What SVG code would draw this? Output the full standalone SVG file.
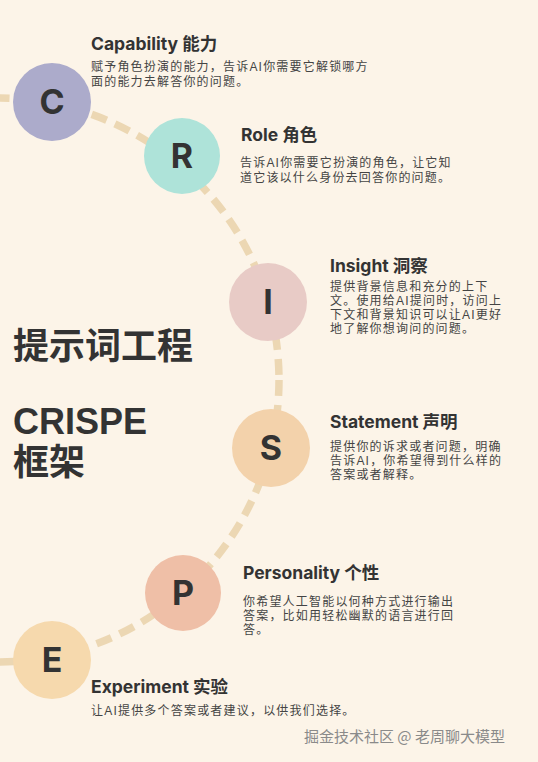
<svg xmlns="http://www.w3.org/2000/svg" width="538" height="762" viewBox="0 0 538 762">
<style>
.title{font-family:Inter,"Noto Sans CJK SC",sans-serif;font-weight:700;font-size:17.5px;fill:#333}
.desc{font-family:"Liberation Sans","Noto Sans CJK SC",sans-serif;font-size:12px;letter-spacing:1.2px;fill:#444}
.letter{font-family:Inter,"Liberation Sans",sans-serif;font-weight:700;font-size:34px;fill:#333;text-anchor:middle}
.big{font-family:"Liberation Sans","Noto Sans CJK SC",sans-serif;font-weight:700;font-size:36px;fill:#333}
.wm{font-family:"Noto Sans CJK SC",sans-serif;font-size:15px;fill:#8a8a8a}
</style>
<rect width="538" height="762" fill="#fcf4e8"/>
<g id="connectors">
<circle cx="-3" cy="380" r="282" fill="none" stroke="#ecd7b3" stroke-width="7.5" stroke-dasharray="16 9"/>
</g>
<g id="node-C">
<circle cx="52" cy="102" r="39" fill="#acabcb"/>
<text class="letter" x="52" y="114">C</text>
<text class="title" x="91" y="50">Capability 能力</text>
<text class="desc" x="91" y="71">赋予角色扮演的能力，告诉AI你需要它解锁哪方<tspan x="91" dy="15">面的能力去解答你的问题。</tspan></text>
</g>
<g id="node-R">
<circle cx="182" cy="156" r="38" fill="#aee3d9"/>
<text class="letter" x="182" y="168">R</text>
<text class="title" x="241" y="141">Role 角色</text>
<text class="desc" x="240" y="167">告诉AI你需要它扮演的角色，让它知<tspan x="240" dy="15">道它该以什么身份去回答你的问题。</tspan></text>
</g>
<g id="node-I">
<circle cx="268" cy="302" r="39" fill="#e8cbc6"/>
<text class="letter" x="268" y="314">I</text>
<text class="title" x="330" y="272">Insight 洞察</text>
<text class="desc" x="330" y="291">提供背景信息和充分的上下<tspan x="330" dy="14">文。使用给AI提问时，访问上</tspan><tspan x="330" dy="14">下文和背景知识可以让AI更好</tspan><tspan x="330" dy="14">地了解你想询问的问题。</tspan></text>
</g>
<g id="node-S">
<circle cx="271" cy="448" r="39" fill="#f3d2ab"/>
<text class="letter" x="271" y="460">S</text>
<text class="title" x="330" y="428">Statement 声明</text>
<text class="desc" x="330" y="451">提供你的诉求或者问题，明确<tspan x="330" dy="14">告诉AI，你希望得到什么样的</tspan><tspan x="330" dy="14">答案或者解释。</tspan></text>
</g>
<g id="node-P">
<circle cx="183" cy="593" r="38" fill="#efbfa7"/>
<text class="letter" x="183" y="605">P</text>
<text class="title" x="243" y="579">Personality 个性</text>
<text class="desc" x="243" y="606">你希望人工智能以何种方式进行输出<tspan x="243" dy="14">答案，比如用轻松幽默的语言进行回</tspan><tspan x="243" dy="14">答。</tspan></text>
</g>
<g id="node-E">
<circle cx="52" cy="660" r="39" fill="#f6d9ad"/>
<text class="letter" x="52" y="672">E</text>
<text class="title" x="91" y="693">Experiment 实验</text>
<text class="desc" x="91" y="715">让AI提供多个答案或者建议，以供我们选择。</text>
</g>
<g id="heading">
<text class="big" x="13" y="359">提示词工程</text>
<text class="big" x="13" y="434">CRISPE<tspan x="13" dy="41">框架</tspan></text>
</g>
<text class="wm" x="304" y="742">掘金技术社区 @ 老周聊大模型</text>
</svg>
